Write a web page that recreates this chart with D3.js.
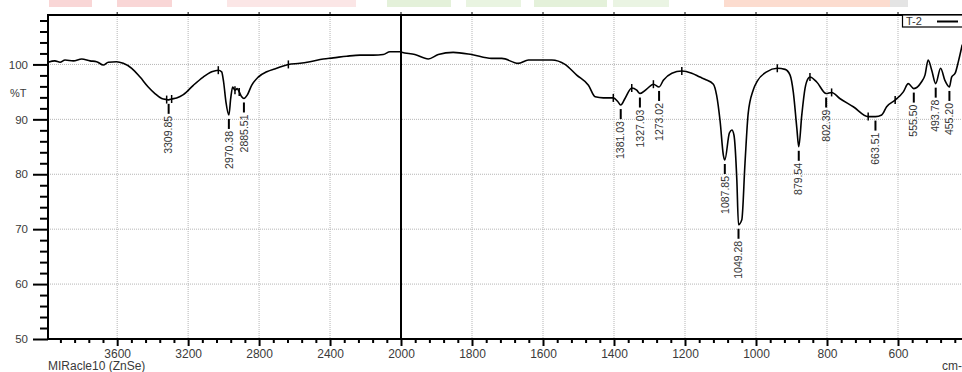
<!DOCTYPE html>
<html>
<head>
<meta charset="utf-8">
<script src="https://cdn.jsdelivr.net/npm/d3@7"></script>
<style>
  body { margin: 0; background: #fff; }
  svg { display: block; font-family: "Liberation Sans", Arial, sans-serif; }
</style>
</head>
<body>
<div id="chart"></div>
<script>
  // spectrum (cm-1 , %T)
  var wavenumbers = [
    3990, 3951, 3922, 3894, 3847, 3800, 3753, 3716, 3678, 3650, 3603, 3566, 3518, 3471, 3425, 3387,
    3349, 3321, 3309.85, 3293, 3265, 3227, 3171, 3115, 3067, 3030, 3011, 3000, 2987, 2970.38, 2960,
    2949, 2936, 2923, 2912, 2898, 2885.51, 2867, 2842, 2805, 2757, 2701, 2635, 2569, 2513, 2438, 2382,
    2306, 2231, 2156, 2100, 2062, 2006,
    1998, 1961, 1923, 1895, 1853, 1801, 1745, 1716, 1670, 1641, 1575, 1538, 1505, 1472, 1453, 1430,
    1402, 1390, 1381.03, 1369, 1350, 1336, 1327.03, 1308, 1289, 1273.02, 1261, 1237, 1209, 1181, 1158,
    1144, 1120, 1111, 1101, 1092, 1087.85, 1075, 1068, 1062, 1054, 1049.28, 1040, 1031, 1022, 1008,
    996, 970, 940, 918, 904, 895, 885, 879.54, 871, 862, 853, 848, 829, 802.39, 787, 764, 726, 684,
    663.51, 646, 632, 608, 585, 571, 555.50, 534, 524, 515, 505, 493.78, 480, 468, 455.20, 449, 439,
    430, 419
  ];
  var transmittance = [
    100.4, 100.65, 100.4, 100.8, 100.65, 101.0, 100.65, 100.5, 99.9, 100.4, 100.5, 100.2, 99.3, 97.7, 95.9, 94.7,
    93.8, 93.6, 93.55, 93.7, 93.9, 94.5, 96.2, 97.7, 98.65, 98.95, 98.65, 96.8, 93.2, 90.8, 93.8,
    95.9, 95.3, 95.6, 95.0, 94.1, 93.8, 94.4, 96.2, 97.7, 98.65, 99.3, 100.0, 100.2, 100.5, 101.0, 101.2,
    101.5, 101.7, 101.7, 101.8, 102.3, 102.3,
    102.2, 101.8, 101.0, 101.8, 102.2, 101.8, 101.1, 101.1, 100.2, 100.8, 100.8, 100.0, 98.05, 96.2, 94.1, 93.9,
    93.9, 93.3, 92.6, 93.8, 95.7, 95.3, 94.7, 95.5, 96.4, 95.9, 97.1, 98.4, 98.8, 98.4, 97.7,
    97.3, 96.4, 94.4, 89.6, 83.5, 82.6, 87.5, 88.05, 87.1, 79.0, 70.8, 71.7, 82.0, 91.1, 95.3,
    97.0, 98.65, 99.3, 99.1, 98.05, 95.0, 88.4, 85.0, 90.8, 95.6, 97.45, 97.7, 96.8, 94.7, 94.9, 93.8, 92.3, 90.5,
    90.5, 90.8, 92.3, 93.5, 95.0, 96.5, 95.6, 96.8, 98.05, 100.8, 98.95, 96.5, 99.3, 97.1, 95.9, 97.7, 98.4,
    100.5, 103.6
  ];

  // picked peaks
  var peakWn = [3309.85, 2970.38, 2885.51, 1381.03, 1327.03, 1273.02, 1087.85, 1049.28, 879.54, 802.39, 663.51, 555.50, 493.78, 455.20];
  var peakT = [93.55, 90.8, 93.8, 92.6, 94.7, 95.9, 82.6, 70.8, 85.0, 94.7, 90.5, 95.6, 96.5, 95.9];
  var peakLabels = ["3309.85", "2970.38", "2885.51", "1381.03", "1327.03", "1273.02", "1087.85", "1049.28", "879.54", "802.39", "663.51", "555.50", "493.78", "455.20"];

  // small crossing marks on the trace
  var markerWn = [3321, 3293, 3030, 2936, 2912, 2635, 1402, 1350, 1289, 1209, 940, 848, 787, 684, 608];

  var xMajorTicks = [3600, 3200, 2800, 2400, 2000, 1800, 1600, 1400, 1200, 1000, 800, 600];
  var yMajorTicks = [100, 90, 80, 70, 60, 50];
  var yGridTicks = [100, 90, 80, 70, 60];

  var W = 962, H = 372;
  var plotLeft = 48, plotTop = 15, plotBottom = 339;

  var svg = d3.select("#chart").append("svg")
    .attr("width", W)
    .attr("height", H);

  // faint watermark at top of the page
  var wm = [
    [49, 92, "#f9d6d6"], [117, 172, "#f9d6d6"], [227, 356, "#fbe6e6"],
    [387, 451, "#e4f1da"], [466, 521, "#e9f4e1"], [534, 607, "#e4f1da"], [613, 669, "#eaf4e3"],
    [724, 890, "#fcdccf"], [890, 908, "#e4e4e4"]
  ];
  svg.selectAll("rect.wm")
    .data(wm)
    .enter()
    .append("rect")
    .attr("class", "wm")
    .attr("x", d => d[0])
    .attr("y", 0)
    .attr("width", d => d[1] - d[0])
    .attr("height", 7)
    .attr("fill", d => d[2]);

  // scales: the x axis doubles its scale below 2000
  var x = d3.scaleLinear()
    .domain([3990, 2000, 400])
    .range([plotLeft, 401, 969]);
  var y = d3.scaleLinear()
    .domain([50, 109])
    .range([plotBottom, plotTop]);

  // grid
  svg.append("g")
    .selectAll("line")
    .data(xMajorTicks.filter(d => d != 2000))
    .enter()
    .append("line")
    .attr("x1", d => x(d)).attr("x2", d => x(d))
    .attr("y1", plotTop).attr("y2", plotBottom)
    .attr("stroke", "#b5b5b5")
    .attr("stroke-dasharray", "1,1");
  svg.append("g")
    .selectAll("line")
    .data(yGridTicks)
    .enter()
    .append("line")
    .attr("x1", plotLeft).attr("x2", W)
    .attr("y1", d => y(d)).attr("y2", d => y(d))
    .attr("stroke", "#b5b5b5")
    .attr("stroke-dasharray", "1,1");

  // heavy line where the scale changes
  svg.append("line")
    .attr("x1", x(2000)).attr("x2", x(2000))
    .attr("y1", plotTop).attr("y2", plotBottom)
    .attr("stroke", "#000")
    .attr("stroke-width", 2);

  // top frame with small ticks
  svg.append("line")
    .attr("x1", plotLeft).attr("x2", W)
    .attr("y1", plotTop).attr("y2", plotTop)
    .attr("stroke", "#000")
    .attr("stroke-width", 2);
  svg.append("g")
    .selectAll("line")
    .data(xMajorTicks)
    .enter()
    .append("line")
    .attr("x1", d => x(d)).attr("x2", d => x(d))
    .attr("y1", plotTop - 3).attr("y2", plotTop)
    .attr("stroke", "#000");

  // x axis
  var xMinor = d3.range(3920, 2000, -80).concat(d3.range(1960, 400, -40))
    .filter(d => xMajorTicks.indexOf(d) < 0);
  var xMinorAxis = svg.append("g")
    .attr("transform", "translate(0," + plotBottom + ")")
    .call(d3.axisBottom(x).tickValues(xMinor).tickSize(4).tickFormat(""));
  xMinorAxis.select(".domain").remove();
  xMinorAxis.selectAll("line").attr("stroke-width", 2);

  var xAxis = svg.append("g")
    .attr("transform", "translate(0," + plotBottom + ")")
    .call(d3.axisBottom(x).tickValues(xMajorTicks).tickSize(7).tickPadding(3).tickFormat(d3.format("d")));
  xAxis.select(".domain").remove();
  xAxis.selectAll("line").attr("stroke-width", 2);
  xAxis.selectAll("text")
    .style("font-size", "12px")
    .style("font-family", "Liberation Sans, Arial, sans-serif")
    .attr("fill", "#3a3a3a");
  svg.append("line")
    .attr("x1", plotLeft - 1).attr("x2", W)
    .attr("y1", plotBottom).attr("y2", plotBottom)
    .attr("stroke", "#000")
    .attr("stroke-width", 2);

  // y axis
  var yMinor = d3.range(52, 109, 2).filter(d => yMajorTicks.indexOf(d) < 0);
  var yMinorAxis = svg.append("g")
    .attr("transform", "translate(" + plotLeft + ",0)")
    .call(d3.axisLeft(y).tickValues(yMinor).tickSize(8).tickFormat(""));
  yMinorAxis.select(".domain").remove();
  yMinorAxis.selectAll("line").attr("stroke-width", 2);

  var yAxis = svg.append("g")
    .attr("transform", "translate(" + plotLeft + ",0)")
    .call(d3.axisLeft(y).tickValues(yMajorTicks).tickSize(15).tickPadding(5));
  yAxis.select(".domain").remove();
  yAxis.selectAll("line").attr("stroke-width", 2);
  yAxis.selectAll("text")
    .style("font-size", "11.5px")
    .style("font-family", "Liberation Sans, Arial, sans-serif")
    .attr("fill", "#3a3a3a");
  svg.append("line")
    .attr("x1", plotLeft).attr("x2", plotLeft)
    .attr("y1", plotTop - 1).attr("y2", plotBottom + 1)
    .attr("stroke", "#000")
    .attr("stroke-width", 2);

  svg.append("text")
    .attr("x", 10).attr("y", 97)
    .style("font-size", "11px")
    .attr("fill", "#3a3a3a")
    .text("%T");

  svg.append("text")
    .attr("x", 48).attr("y", 370)
    .style("font-size", "12px")
    .attr("fill", "#3a3a3a")
    .text("MIRacle10 (ZnSe)");
  svg.append("text")
    .attr("x", 942).attr("y", 370)
    .style("font-size", "12px")
    .attr("fill", "#3a3a3a")
    .text("cm-");

  // spectrum
  var pts = wavenumbers.map((d, i) => [d, transmittance[i]]);
  var line = d3.line()
    .x(d => x(d[0]))
    .y(d => y(d[1]))
    .curve(d3.curveMonotoneX);
  svg.append("path")
    .datum(pts)
    .attr("d", line)
    .attr("fill", "none")
    .attr("stroke", "#000")
    .attr("stroke-width", 1.6)
    .attr("stroke-linejoin", "round");

  function interpT(wn) {
    for (var i = 0; i < wavenumbers.length - 1; i++) {
      if (wn <= wavenumbers[i] && wn >= wavenumbers[i + 1]) {
        var t = (wavenumbers[i] - wn) / (wavenumbers[i] - wavenumbers[i + 1]);
        return transmittance[i] + t * (transmittance[i + 1] - transmittance[i]);
      }
    }
    return transmittance[transmittance.length - 1];
  }

  svg.append("g")
    .selectAll("line")
    .data(markerWn)
    .enter()
    .append("line")
    .attr("x1", d => x(d)).attr("x2", d => x(d))
    .attr("y1", d => y(interpT(d)) - 4)
    .attr("y2", d => y(interpT(d)) + 4)
    .attr("stroke", "#000")
    .attr("stroke-width", 1.5);

  // peak labels
  var peaks = peakWn.map((d, i) => ({ wn: d, t: peakT[i], label: peakLabels[i] }));
  var pg = svg.append("g");
  pg.selectAll("line")
    .data(peaks)
    .enter()
    .append("line")
    .attr("x1", d => x(d.wn)).attr("x2", d => x(d.wn))
    .attr("y1", d => y(d.t) + 4)
    .attr("y2", d => y(d.t) + 14)
    .attr("stroke", "#000")
    .attr("stroke-width", 2);
  pg.selectAll("text")
    .data(peaks)
    .enter()
    .append("text")
    .attr("transform", d => "translate(" + x(d.wn) + "," + (y(d.t) + 16) + ")rotate(-90)")
    .attr("text-anchor", "end")
    .attr("dy", "0.35em")
    .style("font-size", "10.5px")
    .attr("fill", "#333")
    .text(d => d.label);

  // legend box
  svg.append("rect")
    .attr("x", 902.5).attr("y", plotTop)
    .attr("width", 80).attr("height", 12)
    .attr("fill", "#fff")
    .attr("stroke", "#000")
    .attr("stroke-width", 1.2);
  svg.append("text")
    .attr("x", 906).attr("y", 25)
    .style("font-size", "11px")
    .attr("fill", "#333")
    .text("T-2");
  svg.append("line")
    .attr("x1", 937).attr("x2", 958)
    .attr("y1", 21.5).attr("y2", 21.5)
    .attr("stroke", "#000")
    .attr("stroke-width", 2);
</script>
</body>
</html>
